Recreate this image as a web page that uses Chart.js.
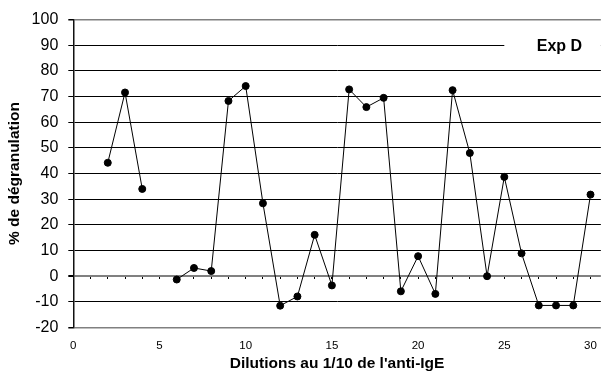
<!DOCTYPE html>
<html>
<head>
<meta charset="utf-8">
<script src="https://cdn.jsdelivr.net/npm/chart.js@4/dist/chart.umd.min.js"></script>
<style>
    body{ margin:0; background:#fff; }
</style>
</head>
<body>
<canvas id="myChart" width="608" height="375"></canvas>
<script>
// dilution number (x) and % degranulation (y), null = no measure
const dilutions = [2, 3, 4, 5, 6, 7, 8, 9, 10, 11, 12, 13, 14, 15, 16, 17, 18, 19, 20, 21, 22, 23, 24, 25, 26, 27, 28, 29, 30];
const degranulation = [44.2, 71.6, 34.0, null, -1.3, 3.2, 2.0, 68.3, 74.1, 28.4, -11.5, -7.9, 16.1, -3.6, 72.8, 65.9, 69.5, -5.9, 7.8, -6.9, 72.5, 48.0, 0, 38.7, 8.9, -11.4, -11.4, -11.4, 31.8];
const xTickLabels = [0, 5, 10, 15, 20, 25, 30];
const yTickLabels = [-20, -10, 0, 10, 20, 30, 40, 50, 60, 70, 80, 90, 100];
const expLabel = "Exp D";
const xTitle = "Dilutions au 1/10 de l'anti-IgE";
const yTitle = "% de dégranulation";

const FONT = 'Arial, "Liberation Sans", sans-serif';

function CreateChart(){
    let points = [];
    dilutions.forEach((d, i) => {
        points.push({x: d, y: degranulation[i]});
    });

    const data = {
        datasets: [{
            label: expLabel,
            data: points,
            borderColor: '#000',
            backgroundColor: '#000',
            borderWidth: 1,
            pointRadius: 3.5,
            pointBorderWidth: 1,
            pointBackgroundColor: '#000',
            pointBorderColor: '#000',
            tension: 0,
            spanGaps: false,
        }]
    };

    const expBox = {
        id: 'expBox',
        afterDatasetsDraw(chart){
            const { ctx, chartArea: {right}, scales: {x, y} } = chart;
            const yPos = y.getPixelForValue(90);
            ctx.save();
            ctx.fillStyle = '#fff';
            ctx.fillRect(x.getPixelForValue(25), yPos - 10, right - x.getPixelForValue(25), 20);
            ctx.fillStyle = '#000';
            ctx.font = 'bold 16px ' + FONT;
            ctx.textAlign = 'center';
            ctx.textBaseline = 'middle';
            ctx.fillText(expLabel, x.getPixelForValue(28.2), yPos + 1);
            ctx.restore();
        }
    };

    const options = {
        responsive: false,
        animation: false,
        layout: {
            padding: { top: 14, right: 0, left: 0, bottom: 0 }
        },
        plugins: {
            legend: { display: false },
            tooltip: { enabled: false },
        },
        scales: {
            x: {
                type: 'linear',
                position: 'bottom',
                min: 0,
                max: 30.6,
                afterBuildTicks: (scale) => {
                    scale.ticks = xTickLabels.map(v => ({value: v}));
                },
                afterFit: (scale) => { scale.height = 47.5; },
                grid: { display: false, drawTicks: false },
                border: { display: false },
                ticks: {
                    color: '#000',
                    padding: 11,
                    maxRotation: 0,
                    font: { family: FONT, size: 11.5 },
                },
                title: {
                    display: true,
                    text: xTitle,
                    color: '#000',
                    font: { family: FONT, size: 15.5, weight: 'bold' },
                    padding: { top: 0, bottom: 2 },
                },
            },
            x2: {
                type: 'linear',
                position: { y: 0 },
                min: 0,
                max: 30.6,
                afterBuildTicks: (scale) => {
                    scale.ticks = dilutions.concat([1]).map(v => ({value: v}));
                },
                grid: {
                    drawOnChartArea: false,
                    drawTicks: true,
                    tickLength: 3,
                    tickColor: '#000',
                    lineWidth: 1,
                },
                border: { display: false },
                ticks: { display: false },
            },
            y: {
                min: -20,
                max: 100,
                afterBuildTicks: (scale) => {
                    scale.ticks = yTickLabels.map(v => ({value: v}));
                },
                afterFit: (scale) => { scale.width = 73.3; },
                grid: {
                    color: (c) => {
                        let v = c.tick ? c.tick.value : null;
                        return (v === 0 || v === 100 || v === -20) ? '#808080' : '#000';
                    },
                    lineWidth: (c) => {
                        let v = c.tick ? c.tick.value : null;
                        if(v === 0){ return 2; }
                        return (v === 100 || v === -20) ? 1.5 : 1;
                    },
                    tickColor: '#000',
                    tickLength: 5,
                },
                border: { display: true, color: '#111', width: 1.5 },
                ticks: {
                    color: '#000',
                    padding: 10,
                    font: { family: FONT, size: 16 },
                },
                title: {
                    display: true,
                    text: yTitle,
                    color: '#000',
                    font: { family: FONT, size: 15.5, weight: 'bold' },
                    padding: { top: 5, bottom: 0 },
                },
            },
        },
    };

    const chart = new Chart(document.getElementById('myChart'), {
        type: 'line',
        data: data,
        options: options,
        plugins: [expBox],
    });
}

CreateChart();
</script>
</body>
</html>
